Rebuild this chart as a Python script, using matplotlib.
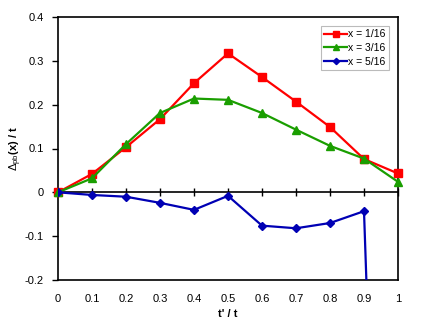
import matplotlib
matplotlib.use('Agg')
import matplotlib.pyplot as plt

plt.rcParams['font.family'] = ['Liberation Sans', 'DejaVu Sans']
plt.rcParams['mathtext.fontset'] = 'custom'
plt.rcParams['mathtext.rm'] = 'Liberation Sans'
plt.rcParams['mathtext.it'] = 'Liberation Sans'
plt.rcParams['mathtext.bf'] = 'Liberation Sans:bold'

t_ratio = [0, 0.1, 0.2, 0.3, 0.4, 0.5, 0.6, 0.7, 0.8, 0.9, 1.0]
x_1_16 = [0, 0.042, 0.103, 0.167, 0.249, 0.317, 0.263, 0.207, 0.149, 0.076, 0.043]
x_3_16 = [0, 0.032, 0.110, 0.181, 0.214, 0.211, 0.181, 0.143, 0.106, 0.077, 0.024]
x_5_16 = [0, -0.006, -0.010, -0.024, -0.040, -0.008, -0.076, -0.082, -0.070, -0.043, -2.3]
tick_labels = ['0', '0.1', '0.2', '0.3', '0.4', '0.5', '0.6', '0.7', '0.8', '0.9', '1']

fig = plt.figure(figsize=(4.25, 3.29), dpi=100)
ax = fig.add_axes([58/425, 1 - 280/329, 340/425, 263/329])

ax.plot(t_ratio, x_1_16, '-s', color='#ff0000', lw=1.6, ms=6, label='x = 1/16', clip_on=False, zorder=3)
ax.plot(t_ratio, x_3_16, '-^', color='#1a9e00', lw=1.6, ms=6, label='x = 3/16', clip_on=False, zorder=3)
ax.plot(t_ratio, x_5_16, '-D', color='#0000b4', lw=1.6, ms=4, label='x = 5/16', zorder=3)
ax.set_xlim(0, 1)
ax.set_ylim(-0.2, 0.4)

# x axis runs along y = 0 with crossing ticks, labels go below the frame
ax.spines['bottom'].set_position(('data', 0))
ax.set_xticks(t_ratio)
ax.tick_params(axis='x', direction='inout', length=6, width=1, labelbottom=False)
sec = ax.secondary_xaxis('bottom')
sec.set_xticks(t_ratio)
sec.set_xticklabels(tick_labels)
sec.tick_params(length=0, pad=10, labelsize=8)
sec.spines['bottom'].set_linewidth(1.2)

ax.set_yticks([-0.2, -0.1, 0, 0.1, 0.2, 0.3, 0.4])
ax.set_yticklabels(['-0.2', '-0.1', '0', '0.1', '0.2', '0.3', '0.4'])
ax.tick_params(axis='y', direction='out', length=4, width=1, pad=6, labelsize=8)
for s in ax.spines.values():
    s.set_linewidth(1.2)

sec.set_xlabel("t' / t", fontsize=8, fontweight='bold', labelpad=4)
ax.set_ylabel(r'$\Delta_{pb}$(x) / t', fontsize=8, fontweight='bold', labelpad=1)

leg = ax.legend(loc='upper right', fontsize=7.5, frameon=True, fancybox=False,
                handlelength=2.2, handletextpad=0.1, borderpad=0.3, labelspacing=0.35,
                borderaxespad=0.9, markerscale=0.8)
leg.get_frame().set_edgecolor('#aaaaaa')
leg.get_frame().set_linewidth(0.8)

fig.savefig('out.png', dpi=100)
